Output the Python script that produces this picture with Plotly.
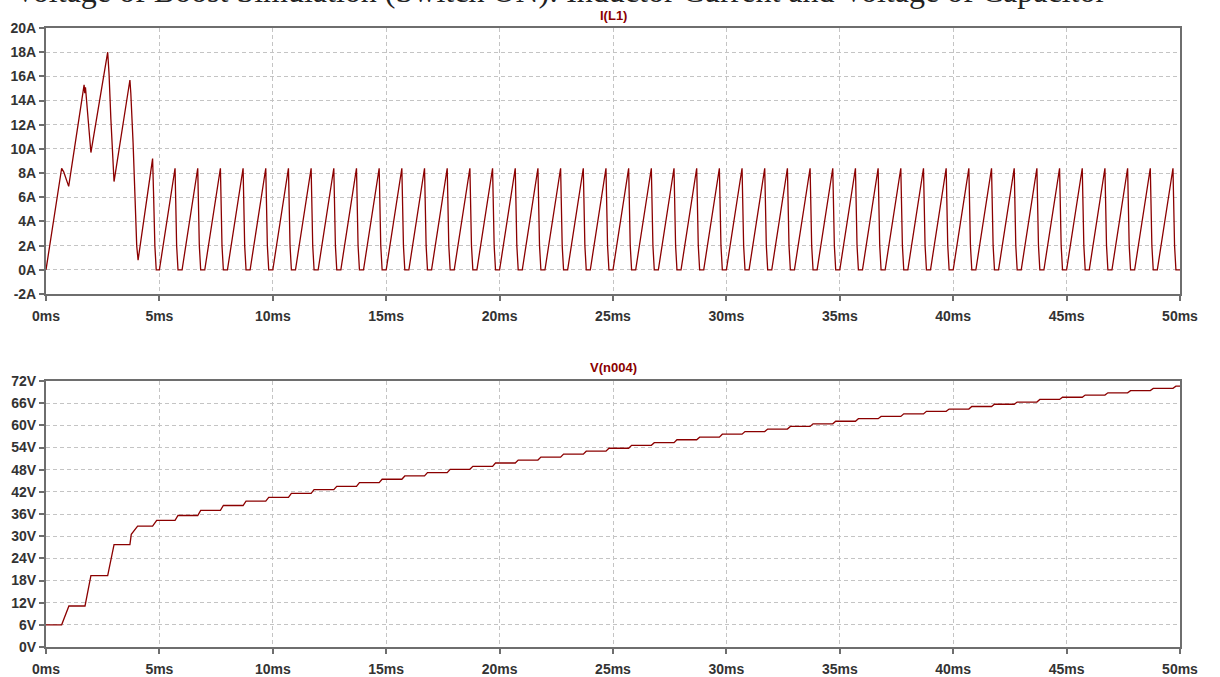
import plotly.graph_objects as go

# ---------------- data ----------------
# Inductor current I(L1): start-up transient (time in ms, current in A)
i_trans_t = [0.0, 0.69, 0.78, 1.00, 1.68, 1.71, 1.74, 1.98, 2.72, 2.78, 2.86, 2.94, 3.00,
             3.70, 3.74, 3.84, 3.90, 3.95, 4.00, 4.06, 4.70, 4.74, 4.80, 4.86, 5.00]
i_trans_v = [0.0, 8.4, 8.1, 6.9, 15.3, 14.6, 15.1, 9.7, 18.0, 16.2, 12.5, 9.5, 7.3,
             15.7, 14.6, 10.5, 6.5, 4.2, 2.0, 0.8, 9.2, 6.5, 2.0, 0.0, 0.0]

# steady switching cycles: switch-on time (ms) and peak current (A) of each cycle
cycle_on = [5, 6, 7, 8, 9, 10, 11, 12, 13, 14, 15, 16, 17, 18, 19, 20, 21, 22, 23, 24,
            25, 26, 27, 28, 29, 30, 31, 32, 33, 34, 35, 36, 37, 38, 39, 40, 41, 42, 43, 44,
            45, 46, 47, 48, 49]
cycle_peak = [8.4, 8.4, 8.4, 8.4, 8.4, 8.4, 8.4, 8.4, 8.4, 8.4, 8.4, 8.4, 8.4, 8.4, 8.4,
              8.4, 8.4, 8.4, 8.4, 8.4, 8.4, 8.4, 8.4, 8.4, 8.4, 8.4, 8.4, 8.4, 8.4, 8.4,
              8.4, 8.4, 8.4, 8.4, 8.4, 8.4, 8.4, 8.4, 8.4, 8.4, 8.4, 8.4, 8.4, 8.4, 8.4]

# Output voltage V(n004): start-up transient (ms, V)
v_trans_t = [0.0, 0.69, 1.01, 1.72, 1.98, 2.72, 3.00, 3.70, 3.76, 4.04, 4.70, 4.88]
v_trans_v = [6.0, 6.0, 11.1, 11.1, 19.3, 19.3, 27.7, 27.7, 30.5, 32.7, 32.7, 34.3]
# voltage level reached after each steady cycle (cycles 5 .. 49)
v_levels = [35.6, 37.0, 38.3, 39.5, 40.5, 41.6, 42.6, 43.5, 44.5, 45.4,
            46.3, 47.2, 48.1, 48.9, 49.8, 50.6, 51.4, 52.2, 53.0, 53.8,
            54.6, 55.3, 56.1, 56.8, 57.6, 58.3, 59.0, 59.7, 60.4, 61.1,
            61.8, 62.4, 63.1, 63.8, 64.4, 65.1, 65.7, 66.3, 67.0, 67.6,
            68.2, 68.8, 69.4, 70.0, 70.6]

x_ticks = [0, 5, 10, 15, 20, 25, 30, 35, 40, 45, 50]
x_labels = ["0ms", "5ms", "10ms", "15ms", "20ms", "25ms", "30ms", "35ms", "40ms", "45ms", "50ms"]
i_ticks = [-2, 0, 2, 4, 6, 8, 10, 12, 14, 16, 18, 20]
i_labels = ["-2A", "0A", "2A", "4A", "6A", "8A", "10A", "12A", "14A", "16A", "18A", "20A"]
v_ticks = [0, 6, 12, 18, 24, 30, 36, 42, 48, 54, 60, 66, 72]
v_labels = ["0V", "6V", "12V", "18V", "24V", "30V", "36V", "42V", "48V", "54V", "60V", "66V", "72V"]

caption = "Voltage of Boost Simulation (Switch ON): Inductor Current and Voltage of Capacitor"

# ---------------- build polylines ----------------
it = list(i_trans_t)
iv = list(i_trans_v)
for ton, pk in zip(cycle_on, cycle_peak):
    if it[-1] != ton:
        it.append(ton); iv.append(0.0)
    it += [ton + 0.69, ton + 0.72, ton + 0.76, ton + 0.82]
    iv += [pk, 6.0, 2.0, 0.0]
it.append(50.0); iv.append(0.0)

vt = list(v_trans_t)
vv = list(v_trans_v)
prev = v_trans_v[-1]
for ton, lev in zip(cycle_on, v_levels):
    vt += [ton + 0.69, ton + 0.82]
    vv += [prev, lev]
    prev = lev
vt.append(50.0); vv.append(prev)

LINE = "#8b0000"
fig = go.Figure()
fig.add_trace(go.Scatter(x=it, y=iv, mode="lines", line=dict(color=LINE, width=1.3),
                         xaxis="x", yaxis="y", showlegend=False, hoverinfo="skip"))
fig.add_trace(go.Scatter(x=vt, y=vv, mode="lines", line=dict(color=LINE, width=1.3),
                         xaxis="x2", yaxis="y2", showlegend=False, hoverinfo="skip"))

tickfont = dict(family="Liberation Sans, Arial, sans-serif", size=14, color="#333333", weight="bold")
common = dict(showline=True, linecolor="#6e6e6e", linewidth=2, mirror=True,
              ticks="outside", ticklen=5, tickwidth=1.5, tickcolor="#6e6e6e",
              showgrid=True, gridcolor="#c4c4c4", gridwidth=1, griddash="4px,3px",
              zeroline=False, tickfont=tickfont, fixedrange=True)

W, H = 1220, 677
ml, mr = 46, 40
top_px, bot_px = 28, 30
plot_h = H - top_px - bot_px
plot_w = W - ml - mr


def py(ypx):
    return (H - bot_px - ypx) / plot_h


def px(xpx):
    return (xpx - ml) / plot_w


fig.update_layout(
    width=W, height=H, autosize=False,
    margin=dict(l=ml, r=mr, t=top_px, b=bot_px, autoexpand=False),
    paper_bgcolor="white", plot_bgcolor="white",
    xaxis=dict(anchor="y", range=[0, 50], tickvals=x_ticks, ticktext=x_labels,
               ticklabelstandoff=3, **common),
    yaxis=dict(domain=[py(294), 1.0], range=[-2, 20], tickvals=i_ticks, ticktext=i_labels, **common),
    xaxis2=dict(anchor="y2", range=[0, 50], tickvals=x_ticks, ticktext=x_labels,
                ticklabelstandoff=3, **common),
    yaxis2=dict(domain=[0.0, py(381)], range=[0, 72], tickvals=v_ticks, ticktext=v_labels, **common),
    annotations=[
        dict(text="I(L1)", x=0.5, xref="paper", y=py(15), yref="paper", showarrow=False,
             xanchor="center", yanchor="middle",
             font=dict(family="Liberation Sans, Arial, sans-serif", size=13, color="#8b0000", weight="bold")),
        dict(text="V(n004)", x=0.5, xref="paper", y=py(367), yref="paper", showarrow=False,
             xanchor="center", yanchor="middle",
             font=dict(family="Liberation Sans, Arial, sans-serif", size=13, color="#8b0000", weight="bold")),
    ],
    shapes=[
        dict(type="line", xref="paper", yref="paper", x0=px(20), x1=px(1100), y0=py(-12), y1=py(-12),
             line=dict(width=0, color="rgba(0,0,0,0)"),
             label=dict(text=caption, textposition="middle", xanchor="center", yanchor="middle",
                        font=dict(family="Liberation Serif, Times New Roman, serif", size=32,
                                  color="#222222"))),
    ],
)

fig.write_html("out.html", config={"displayModeBar": False, "responsive": False},
               post_script="document.body.style.margin='0';document.body.style.overflow='hidden';")
